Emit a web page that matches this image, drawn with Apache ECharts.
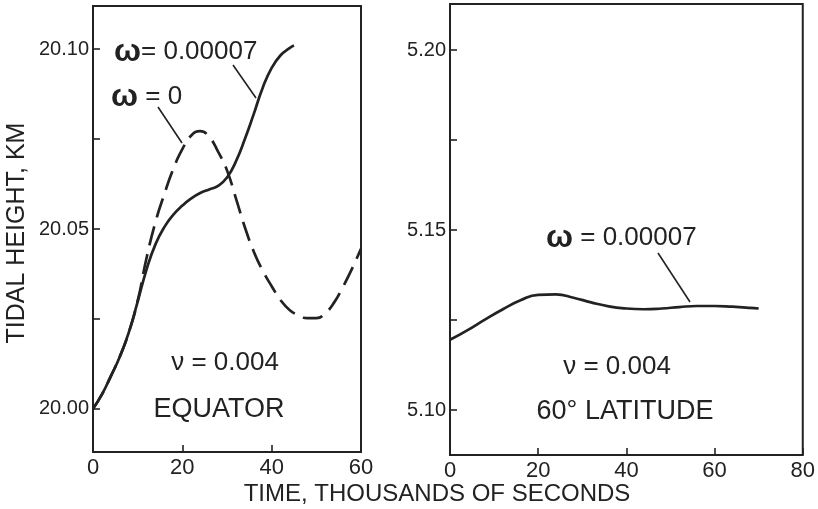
<!DOCTYPE html>
<html><head><meta charset="utf-8">
<script src="https://cdn.jsdelivr.net/npm/echarts@6/dist/echarts.min.js"></script>
<style>html,body{margin:0;padding:0;background:#fff}#c{width:818px;height:509px}</style>
</head><body><div id="c"></div>
<script>
// ---- data ----
const eqTimeSolid  = [0,2,4,6,8,10,12,14,16,18,20,22,24,26,28,30,32,34,36,38,40,42,44,45];
const eqSolid      = [20.0000,20.0040,20.0091,20.0145,20.0212,20.0298,20.0388,20.0458,20.0506,20.0540,20.0565,20.0585,20.0600,20.0610,20.0620,20.0643,20.0688,20.0750,20.0820,20.0893,20.0948,20.0983,20.1003,20.1010];
const eqTimeDashed = [0,2,4,6,8,10,12,14,16,18,20,22,24,26,28,30,32,34,36,38,40,42,44,46,48,50,52,54,56,58,60];
const eqDashed     = [20.0000,20.0040,20.0091,20.0145,20.0212,20.0300,20.0420,20.0520,20.0598,20.0668,20.0722,20.0760,20.0772,20.0756,20.0715,20.0663,20.0585,20.0505,20.0437,20.0384,20.0341,20.0302,20.0275,20.0260,20.0252,20.0252,20.0266,20.0296,20.0340,20.0390,20.0445];
const latTime      = [0,4,8,12,16,20,24,28,32,36,40,44,48,52,56,60,64,68,70];
const latSolid     = [5.1195,5.1222,5.1252,5.1280,5.1305,5.1320,5.1321,5.1312,5.1299,5.1288,5.1282,5.1280,5.1282,5.1286,5.1289,5.1289,5.1287,5.1284,5.1282];
const eqYLabels    = [20.00,20.05,20.10];
const eqYTicks     = [20.000,20.025,20.050,20.075,20.100];
const latYLabels   = [5.10,5.15,5.20];
const latYTicks    = [5.100,5.125,5.150,5.175,5.200];

const pairs = (xs, ys) => xs.map((x,i)=>[x, ys[i]]);
const INK = '#222222';
const FONT = 'Liberation Sans';

function xAx(grid, max){
  return {type:'value', gridIndex:grid, min:0, max:max, interval:20,
    axisLine:{show:false}, splitLine:{show:false},
    axisTick:{show:true, inside:true, length:7, lineStyle:{color:INK, width:1.6}},
    axisLabel:{color:INK, fontSize:22, fontFamily:FONT, margin:5}};
}
function yAx(grid, min, max, labels, ticks){
  return {type:'value', gridIndex:grid, min:min, max:max,
    axisLine:{show:false}, splitLine:{show:false},
    axisTick:{show:true, inside:true, length:7, customValues:ticks, lineStyle:{color:INK, width:1.6}},
    axisLabel:{color:INK, fontSize:20, fontFamily:FONT, margin:4, customValues:labels,
      formatter:v=>Number(v).toFixed(2)}};
}

const omegaRich = {w:{fontSize:32, fontWeight:'bold', fontFamily:FONT, fill:INK}, t:{fontSize:26, fontFamily:FONT, fill:INK}};
function txt(x,y,text,size,align){
  return {type:'text', x:x, y:y, style:{text:text, fontSize:size, fontFamily:FONT, fill:INK, align:align||'center', verticalAlign:'middle'}};
}
function omegaTxt(x,y,str){
  return {type:'text', x:x, y:y, style:{text:'{w|ω}{t|'+str+'}', rich:omegaRich, align:'left', verticalAlign:'middle'}};
}
function leader(x1,y1,x2,y2){
  return {type:'line', shape:{x1:x1,y1:y1,x2:x2,y2:y2}, style:{stroke:INK, lineWidth:1.6}};
}

const chart = echarts.init(document.getElementById('c'), null, {renderer:'canvas'});
chart.setOption({
  backgroundColor:'#fff',
  animation:false,
  grid:[
    {left:93, top:6, width:268, height:446, show:true, borderColor:INK, borderWidth:2, containLabel:false},
    {left:450, top:4, width:357, height:451, show:true, borderColor:INK, borderWidth:2, containLabel:false}
  ],
  xAxis:[xAx(0,60), xAx(1,80)],
  yAxis:[yAx(0,19.988,20.112,eqYLabels,eqYTicks), yAx(1,5.0875,5.2128,latYLabels,latYTicks)],
  series:[
    {type:'line', xAxisIndex:0, yAxisIndex:0, data:pairs(eqTimeSolid,eqSolid), smooth:0.5, showSymbol:false,
      lineStyle:{color:INK, width:2.7}},
    {type:'line', xAxisIndex:0, yAxisIndex:0, data:pairs(eqTimeDashed,eqDashed), smooth:0.5, showSymbol:false,
      lineStyle:{color:INK, width:2.7, type:[20,9]}},
    {type:'line', xAxisIndex:1, yAxisIndex:1, data:pairs(latTime,latSolid), smooth:0.5, showSymbol:false,
      lineStyle:{color:INK, width:2.7}}
  ],
  graphic:[
    {type:'text', x:17, y:233, rotation:Math.PI/2, style:{text:'TIDAL HEIGHT, KM', fontSize:25, fontFamily:FONT, fill:INK, align:'center', verticalAlign:'middle'}},
    txt(437,494,'TIME, THOUSANDS OF SECONDS',24),
    omegaTxt(114,52,'= 0.00007'),
    omegaTxt(111,97,' = 0'),
    leader(233,65,256,98),
    leader(158,107,182,143),
    txt(225,363,'ν = 0.004',26),
    txt(219,410,'EQUATOR',27),
    omegaTxt(546,238,' = 0.00007'),
    leader(658,253,690,302),
    txt(617,367,'ν = 0.004',26),
    txt(625,412,'60° LATITUDE',27)
  ]
});
</script></body></html>
